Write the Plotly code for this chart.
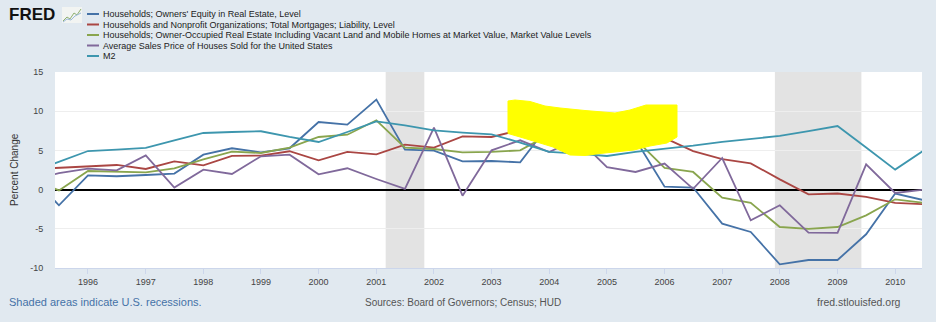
import plotly.graph_objects as go

# ---------------- data (semi-annual, percent change from a year ago) ----------------
dates = ["1995-01-01", "1995-07-01", "1996-01-01", "1996-07-01", "1997-01-01", "1997-07-01",
         "1998-01-01", "1998-07-01", "1999-01-01", "1999-07-01", "2000-01-01", "2000-07-01",
         "2001-01-01", "2001-07-01", "2002-01-01", "2002-07-01", "2003-01-01", "2003-07-01",
         "2004-01-01", "2004-07-01", "2005-01-01", "2005-07-01", "2006-01-01", "2006-07-01",
         "2007-01-01", "2007-07-01", "2008-01-01", "2008-07-01", "2009-01-01", "2009-07-01",
         "2010-01-01", "2010-07-01"]

owners_equity = [1.8, -2.0, 1.82, 1.7, 1.86, 2.04, 4.46, 5.27, 4.76, 5.27, 8.62, 8.29,
                 11.48, 5.1, 4.97, 3.61, 3.65, 3.48, 8.3, 8.5, 8.0, 6.4, 0.38, 0.26,
                 -4.34, -5.4, -9.53, -8.98, -8.98, -5.7, -0.51, -1.35]
mortgages = [2.6, 2.8, 3.0, 3.14, 2.63, 3.61, 3.1, 4.29, 4.34, 4.89, 3.74, 4.8,
             4.5, 5.74, 5.36, 6.8, 6.71, 7.6, 8.5, 9.0, 9.0, 8.0, 6.6, 4.9,
             3.9, 3.35, 1.3, -0.6, -0.5, -0.92, -1.7, -1.85]
owner_occupied_re = [1.5, -0.1, 2.37, 2.3, 2.2, 2.72, 3.86, 4.85, 4.67, 5.36, 6.71, 7.0,
                     8.84, 5.36, 5.18, 4.76, 4.8, 5.01, 7.0, 7.5, 7.3, 6.4, 2.76, 2.25,
                     -1.02, -1.7, -4.77, -5.0, -4.77, -3.28, -1.24, -1.7]
avg_sales_price = [1.2, 2.1, 2.68, 2.46, 4.37, 0.26, 2.55, 1.99, 4.25, 4.46, 1.95, 2.72,
                   1.35, 0.08, 7.9, -0.77, 5.01, 6.29, 4.8, 6.5, 2.85, 2.25, 3.32, 0.1,
                   4.03, -3.92, -2.0, -5.48, -5.53, 3.23, -0.43, 0.0]
m2 = [2.2, 3.5, 4.92, 5.1, 5.31, 6.29, 7.22, 7.35, 7.44, 6.71, 6.07, 7.35,
      8.71, 8.2, 7.56, 7.27, 7.05, 6.0, 4.8, 4.59, 4.29, 4.8, 5.2, 5.6,
      6.1, 6.5, 6.84, 7.47, 8.11, 5.36, 2.55, 5.0]

series_names = [
    "Households; Owners' Equity in Real Estate, Level",
    "Households and Nonprofit Organizations; Total Mortgages; Liability, Level",
    "Households; Owner-Occupied Real Estate Including Vacant Land and Mobile Homes at Market Value, Market Value Levels",
    "Average Sales Price of Houses Sold for the United States",
    "M2",
]
series_values = [owners_equity, mortgages, owner_occupied_re, avg_sales_price, m2]
series_colors = ["#4572A7", "#AA4643", "#89A54E", "#80699B", "#3D96AE"]

recession_starts = ["2001-03-01", "2007-12-01"]
recession_ends = ["2001-11-01", "2009-06-01"]

year_ticks = [f"{y}-01-01" for y in range(1996, 2011)]
year_labels = [str(y) for y in range(1996, 2011)]
y_ticks = [-10, -5, 0, 5, 10, 15]
y_labels = ["-10", "-5", "0", "5", "10", "15"]

# ---------------- layout helpers ----------------
W, H = 936, 322
L, R, T, B = 55, 14, 72, 54
PW, PH = W - L - R, H - T - B


def fx(x):
    return (x - L) / PW


def fy(y):
    return (H - B - y) / PH


FONT = "Liberation Sans Narrow, Arial Narrow, Liberation Sans, Arial, sans-serif"

fig = go.Figure()
for name, vals, col in zip(series_names, series_values, series_colors):
    fig.add_trace(go.Scatter(x=dates, y=vals, name=name, mode="lines",
                             line=dict(color=col, width=1.8), showlegend=False,
                             hoverinfo="skip"))

shapes = []
for s, e in zip(recession_starts, recession_ends):
    shapes.append(dict(type="rect", xref="x", yref="paper", x0=s, x1=e, y0=0, y1=1,
                       fillcolor="#e3e3e3", line=dict(width=0), layer="below"))

# yellow highlight blob over the chart (as in reference)
blob = [(508, 101), (515, 100), (530, 101.5), (545, 106), (560, 108), (585, 110.5),
        (615, 113), (630, 110), (646, 105), (677, 105), (677, 137), (667, 143),
        (650, 146), (634, 150), (615, 152), (600, 153.5), (585, 155.5), (570, 155),
        (553, 147), (535, 141.5), (520, 137), (508, 133.5)]
path = "M " + " L ".join(f"{fx(a):.5f},{fy(b):.5f}" for a, b in blob) + " Z"
shapes.append(dict(type="path", xref="paper", yref="paper", path=path,
                   fillcolor="#ffff00", line=dict(color="#ffff00", width=1), layer="above"))

annotations = []
# legend (manual, FRED style)
row_y = [14, 24.5, 35, 45.5, 56]
for name, col, ry in zip(series_names, series_colors, row_y):
    shapes.append(dict(type="line", xref="paper", yref="paper", x0=fx(87), x1=fx(99),
                       y0=fy(ry), y1=fy(ry), line=dict(color=col, width=2)))
    annotations.append(dict(text=name, xref="paper", yref="paper", x=fx(101), y=fy(ry),
                            xanchor="left", yanchor="middle", showarrow=False,
                            font=dict(family=FONT, size=9, color="#222222")))

# FRED logo
annotations.append(dict(text="<b>FRED</b>", xref="paper", yref="paper", x=fx(7), y=fy(14),
                        xanchor="left", yanchor="middle", showarrow=False,
                        font=dict(family="Liberation Sans, Arial", size=17, color="#111111")))
shapes.append(dict(type="rect", xref="paper", yref="paper", x0=fx(62), x1=fx(82),
                   y0=fy(23), y1=fy(7), fillcolor="#f2f4f2", line=dict(width=0)))
icon = [(63, 21), (67, 17), (70, 19), (74, 13), (77, 15), (81, 9)]
shapes.append(dict(type="path", xref="paper", yref="paper",
                   path="M " + " L ".join(f"{fx(a):.5f},{fy(b):.5f}" for a, b in icon),
                   line=dict(color="#8fb070", width=1)))
icon2 = [(63, 22), (67, 19), (71, 20), (75, 16), (81, 13)]
shapes.append(dict(type="path", xref="paper", yref="paper",
                   path="M " + " L ".join(f"{fx(a):.5f},{fy(b):.5f}" for a, b in icon2),
                   line=dict(color="#9ab8d8", width=1)))

# y axis title
annotations.append(dict(text="Percent Change", xref="paper", yref="paper", x=fx(14), y=0.5,
                        xanchor="center", yanchor="middle", showarrow=False, textangle=-90,
                        font=dict(family=FONT, size=10, color="#333333")))
# footer
annotations.append(dict(text="Shaded areas indicate U.S. recessions.", xref="paper", yref="paper",
                        x=fx(7), y=fy(302), xanchor="left", yanchor="middle", showarrow=False,
                        font=dict(family=FONT, size=11, color="#4572A7")))
annotations.append(dict(text="Sources: Board of Governors; Census; HUD", xref="paper", yref="paper",
                        x=fx(463), y=fy(302), xanchor="center", yanchor="middle", showarrow=False,
                        font=dict(family=FONT, size=10, color="#555555")))
annotations.append(dict(text="fred.stlouisfed.org", xref="paper", yref="paper",
                        x=fx(903), y=fy(302), xanchor="right", yanchor="middle", showarrow=False,
                        font=dict(family=FONT, size=10.5, color="#555555")))

fig.update_layout(
    width=W, height=H,
    margin=dict(l=L, r=R, t=T, b=B),
    paper_bgcolor="#e1e9f0",
    plot_bgcolor="#ffffff",
    shapes=shapes,
    annotations=annotations,
    xaxis=dict(type="date", range=["1995-06-06", "2010-06-20"], tickvals=year_ticks,
               ticktext=year_labels, showgrid=False, ticks="outside", ticklen=5,
               tickcolor="#ccd6eb", showline=True, linecolor="#ccd6eb", linewidth=1,
               tickfont=dict(family=FONT, size=9, color="#444444"), zeroline=False),
    yaxis=dict(range=[-10, 15], tickvals=y_ticks, ticktext=y_labels, showgrid=True,
               gridcolor="#eeeeee", gridwidth=1, zeroline=True, zerolinecolor="#000000",
               zerolinewidth=1.5, ticks="outside", ticklen=9, tickcolor="rgba(0,0,0,0)",
               tickfont=dict(family=FONT, size=9, color="#444444"), showline=False),
)

fig.write_html("out.html")
